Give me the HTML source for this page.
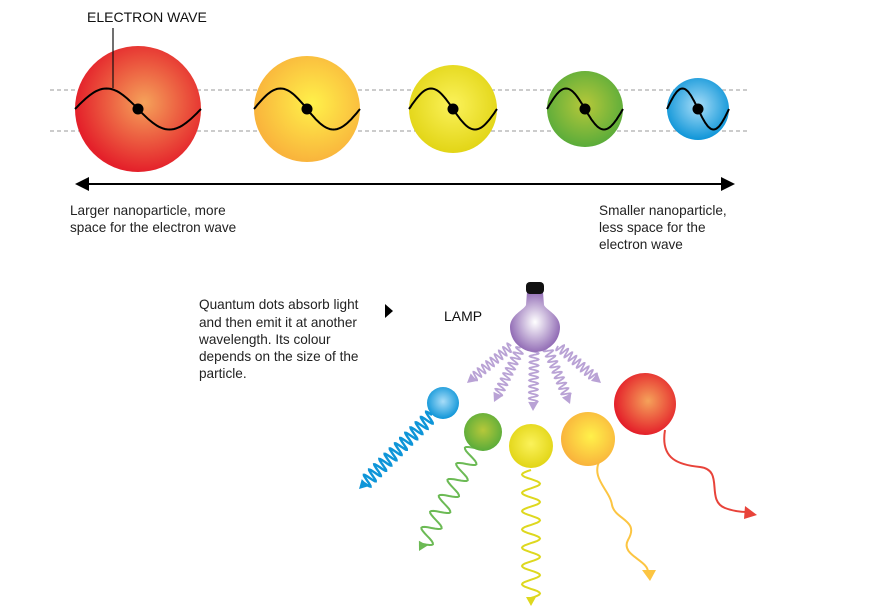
<!DOCTYPE html>
<html><head><meta charset="utf-8"><style>
html,body{margin:0;padding:0;background:#fff;}
svg{display:block;font-family:"Liberation Sans",sans-serif;}
</style></head><body>
<svg id="s" width="870" height="610" viewBox="0 0 870 610">
<defs>
<radialGradient id="gRed" cx="55%" cy="45%" r="55%"><stop offset="0" stop-color="#f5a25a"/><stop offset="1" stop-color="#e4202a"/></radialGradient>
<radialGradient id="gOrange" cx="55%" cy="45%" r="55%"><stop offset="0" stop-color="#fff14a"/><stop offset="1" stop-color="#f9b43c"/></radialGradient>
<radialGradient id="gYellow" cx="50%" cy="45%" r="55%"><stop offset="0" stop-color="#fbf25a"/><stop offset="1" stop-color="#e2d516"/></radialGradient>
<radialGradient id="gGreen" cx="50%" cy="45%" r="55%"><stop offset="0" stop-color="#b6c83a"/><stop offset="1" stop-color="#5aac3a"/></radialGradient>
<radialGradient id="gBlue" cx="50%" cy="45%" r="55%"><stop offset="0" stop-color="#a8ddf8"/><stop offset="1" stop-color="#0e95d8"/></radialGradient>
<radialGradient id="gLamp" cx="50%" cy="50%" r="55%"><stop offset="0" stop-color="#ffffff"/><stop offset="1" stop-color="#8a62b0"/></radialGradient>
</defs>
<g id="topGroup"></g>
<g id="bottomGroup"></g>
<text x="87" y="22" font-size="14" fill="#111">ELECTRON WAVE</text>
<line x1="113" y1="28" x2="113" y2="88" stroke="#111" stroke-width="1.2"/>
<g>
<line x1="85" y1="184" x2="725" y2="184" stroke="#000" stroke-width="2"/>
<polygon points="75,184 89,177 89,191" fill="#000"/>
<polygon points="735,184 721,177 721,191" fill="#000"/>
</g>
<text font-size="13.6" fill="#222"><tspan x="70" y="215">Larger nanoparticle, more</tspan><tspan x="70" y="232">space for the electron wave</tspan></text>
<text font-size="13.6" fill="#222"><tspan x="599" y="215">Smaller nanoparticle,</tspan><tspan x="599" y="232">less space for the</tspan><tspan x="599" y="249">electron wave</tspan></text>
<text font-size="13.6" fill="#222"><tspan x="199" y="309">Quantum dots absorb light</tspan><tspan x="199" y="327">and then emit it at another</tspan><tspan x="199" y="344">wavelength. Its colour</tspan><tspan x="199" y="361">depends on the size of the</tspan><tspan x="199" y="378">particle.</tspan></text>
<polygon points="385,304 393,311 385,318" fill="#000"/>
<text x="444" y="321" font-size="14" fill="#111">LAMP</text>
</svg>
<script>
const topX=[138,307,453,585,698];
const topR=[63,53,44,38,31];
const fills=['gRed','gOrange','gYellow','gGreen','gBlue'];
const names=['red','orange','yellow','green','blue'];
const bX=[443,483,531,588,645];
const bY=[403,432,446,439,404];
const bR=[16,19,22,27,31];
const NS='http://www.w3.org/2000/svg';
function mk(t,a,p){const e=document.createElementNS(NS,t);for(const k in a)e.setAttribute(k,a[k]);p.appendChild(e);return e;}
const topG=document.getElementById('topGroup');
const botG=document.getElementById('bottomGroup');
const dl1=mk('line',{x1:50,y1:90,x2:750,y2:90,stroke:'#999','stroke-dasharray':'4,3','stroke-width':1},topG);


const dl2=mk('line',{x1:50,y1:131,x2:750,y2:131,stroke:'#999','stroke-dasharray':'4,3','stroke-width':1},topG);


const cyTop=109,amp=20.5;
topX.forEach((x,i)=>{
 const r=topR[i];
 const c=mk('circle',{cx:x,cy:cyTop,r:r,fill:'url(#'+fills[i]+')'},topG);
 
 
 let d='';for(let k=0;k<=60;k++){const t=k/60;const px=x-r+2*r*t;const py=cyTop-amp*Math.sin(2*Math.PI*t);d+=(k?'L':'M')+px.toFixed(1)+','+py.toFixed(1);}
 const w=mk('path',{d:d,fill:'none',stroke:'#000','stroke-width':2},topG);
 
 
 const dot=mk('circle',{cx:x,cy:cyTop,r:5.5,fill:'#000'},topG);
 
 
});
function wave(x1,y1,x2,y2,n,a,col,sw,name,op){
 const dx=x2-x1,dy=y2-y1,L=Math.hypot(dx,dy),ux=dx/L,uy=dy/L,nx=-uy,ny=ux;
 const end=L-8;let d='';const steps=Math.max(80,n*16);
 for(let k=0;k<=steps;k++){const s=end*k/steps;const o=a*Math.sin(2*Math.PI*n*k/steps);const px=x1+ux*s+nx*o,py=y1+uy*s+ny*o;d+=(k?'L':'M')+px.toFixed(1)+','+py.toFixed(1);}
 const g=mk('g',{opacity:op||1},botG);
 
 
 mk('path',{d:d,fill:'none',stroke:col,'stroke-width':sw},g);
 const h=9,bx=x2-ux*h,by=y2-uy*h;
 mk('polygon',{points:`${x2},${y2} ${bx+nx*5},${by+ny*5} ${bx-nx*5},${by-ny*5}`,fill:col},g);
}
const rayEnd=[[467,383],[494,402],[533,411],[570,404],[601,383]];
rayEnd.forEach((p,i)=>{const sx=535+(p[0]-535)*0.35,sy=346+(p[1]-383)*0.1;wave(sx,sy,p[0],p[1],9,4.5,'#a88ccb',1.8,'lamp-ray-'+(i+1),0.8);});
wave(432,415,359,489,13,6.5,'#0e95d8',2.4,'emission-blue');
wave(475,448,419,551,6,9,'#6cba55',2,'emission-green');
wave(531,470,531,606,7,9,'#ded81e',2,'emission-yellow');
const bf=['gBlue','gGreen','gYellow','gOrange','gRed'],bn=['blue','green','yellow','orange','red'];
const op=mk('path',{d:'M600,460 C590,478 610,490 612,505 C615,520 640,520 628,540 C620,555 648,560 648,572',fill:'none',stroke:'#fcc542','stroke-width':2},botG);


const oa=mk('polygon',{points:'650,581 642,570 656,570',fill:'#fcc542'},botG);


const rp=mk('path',{d:'M665,430 C660,460 680,465 700,467 C725,470 705,500 725,508 C735,512 745,512 748,512',fill:'none',stroke:'#e8433a','stroke-width':2},botG);


const ra=mk('polygon',{points:'757,515 745,506 744,519',fill:'#e8433a'},botG);


bX.forEach((x,i)=>{const c=mk('circle',{cx:x,cy:bY[i],r:bR[i],fill:'url(#'+bf[i]+')'},botG);
 
 });
const lg=mk('g',{},botG);


mk('path',{d:'M527,292 L543,292 L544,305 C546,310 560,315 560,327 A25,25 0 1 1 510,327 C510,315 524,310 526,305 Z',fill:'url(#gLamp)'},lg);
mk('rect',{x:526,y:282,width:18,height:12,rx:4,fill:'#111'},lg);
</script>
</body></html>
